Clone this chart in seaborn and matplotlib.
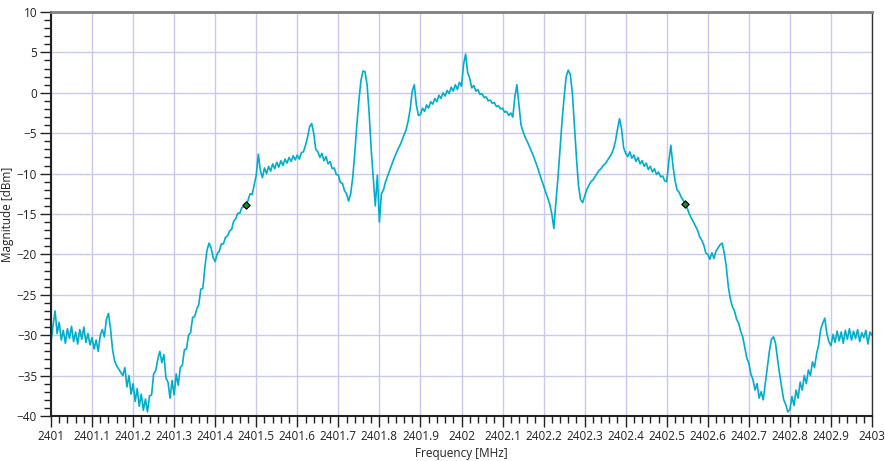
import numpy as np
import pandas as pd
import seaborn as sns
import matplotlib.pyplot as plt
from matplotlib.ticker import MultipleLocator

# spectrum trace, one value every 0.005 MHz from 2401.000 to 2403.000
mag_dbm = [
    # 2401.0
    -30.8, -28.8, -27.0, -29.8, -28.4, -30.6, -29.4, -31.0, -29.2, -30.4,
    -28.9, -30.8, -29.6, -31.1, -29.3, -30.5, -29.0, -30.9, -29.8, -31.2,
    # 2401.1
    -30.3, -31.7, -30.6, -32.0, -30.0, -29.3, -30.2, -28.0, -27.3, -29.2,
    -31.8, -33.2, -33.8, -34.2, -34.6, -35.0, -34.0, -36.4, -35.0, -37.3,
    # 2401.2
    -36.0, -38.2, -36.6, -38.8, -37.3, -39.3, -37.9, -39.5, -37.5, -37.4,
    -34.8, -34.4, -33.0, -32.0, -33.4, -32.4, -35.3, -35.8, -37.8, -35.6,
    # 2401.3
    -37.4, -34.8, -36.2, -34.0, -33.7, -31.8, -31.7, -30.0, -29.7, -27.8,
    -27.7, -26.8, -26.2, -24.3, -24.2, -21.5, -19.5, -18.6, -19.2, -20.4,
    # 2401.4
    -20.9, -19.9, -19.6, -18.7, -18.7, -17.9, -17.7, -17.1, -16.9, -15.9,
    -15.6, -14.9, -14.9, -14.2, -14.1, -13.9, -13.3, -12.5, -12.6, -11.4,
    # 2401.5
    -10.2, -7.6, -9.6, -10.5, -9.3, -10.0, -9.1, -9.7, -8.8, -9.4,
    -8.6, -9.2, -8.4, -9.0, -8.2, -8.7, -8.0, -8.5, -7.8, -8.3,
    # 2401.6
    -7.7, -8.2, -7.4, -7.3, -6.5, -5.5, -4.2, -3.8, -5.0, -7.0,
    -7.3, -8.0, -7.5, -8.4, -7.9, -8.8, -8.5, -9.4, -9.3, -10.1,
    # 2401.7
    -10.2, -11.1, -11.2, -12.1, -12.5, -13.4, -12.5, -10.5, -7.5, -4.0,
    -1.0, 1.5, 2.7, 2.6, 1.0, -2.5, -7.0, -10.5, -14.0, -10.2,
    # 2401.8
    -16.0, -12.5, -12.0, -11.0, -10.3, -9.6, -8.9, -8.2, -7.6, -7.0,
    -6.5, -5.9, -5.2, -4.6, -3.5, -2.0, 0.2, 1.0, -1.5, -2.8,
    # 2401.9
    -2.7, -1.9, -2.3, -1.5, -1.9, -1.1, -1.4, -0.7, -1.1, -0.3,
    -0.7, 0.0, -0.4, 0.3, -0.1, 0.7, 0.2, 1.0, 0.4, 1.3,
    # 2402.0
    0.8, 3.5, 4.8, 2.5, 1.8, 0.6, 0.9, 0.2, 0.4, -0.2,
    -0.1, -0.6, -0.5, -1.0, -0.9, -1.3, -1.2, -1.7, -1.6, -2.0,
    # 2402.1
    -1.9, -2.4, -2.3, -2.8, -2.5, -3.0, -0.5, 1.0, -1.5, -4.0,
    -4.8, -5.5, -6.0, -6.6, -7.2, -7.8, -8.5, -9.2, -10.0, -10.8,
    # 2402.2
    -11.5, -12.3, -13.0, -13.8, -15.0, -16.8, -13.5, -10.5, -7.0, -3.5,
    -0.5, 2.0, 2.8, 2.3, 0.0, -4.0, -8.0, -11.5, -13.2, -13.6,
    # 2402.3
    -12.8, -12.0, -11.5, -11.0, -10.8, -10.4, -10.0, -9.6, -9.4, -9.0,
    -8.8, -8.4, -8.0, -7.6, -7.0, -6.0, -4.5, -3.2, -4.5, -6.8,
    # 2402.4
    -7.5, -7.9, -7.3, -8.1, -7.7, -8.5, -8.0, -8.8, -8.4, -9.1,
    -8.7, -9.5, -9.1, -9.8, -9.4, -10.1, -9.8, -10.4, -10.3, -10.9,
    # 2402.5
    -11.0, -8.5, -6.5, -9.0, -10.8, -12.0, -12.3, -12.9, -13.3, -13.8,
    -14.3, -15.0, -15.5, -16.0, -16.5, -17.0, -17.8, -18.2, -18.8, -19.8,
    # 2402.6
    -20.0, -20.6, -19.8, -20.5, -19.6, -19.2, -18.8, -18.6, -19.8, -21.5,
    -24.0, -25.5, -26.5, -27.0, -28.0, -28.5, -29.5, -30.2, -31.5, -32.8,
    # 2402.7
    -33.5, -34.8, -35.5, -36.8, -36.0, -37.8, -37.0, -38.0, -36.0, -34.0,
    -32.0, -30.5, -30.2, -31.0, -33.0, -34.8, -36.5, -38.0, -38.6, -39.5,
    # 2402.8
    -39.2, -37.6, -38.7, -36.8, -37.8, -35.8, -36.8, -35.0, -36.0, -34.3,
    -35.0, -33.3, -34.0, -32.3, -31.2, -29.3, -28.5, -27.9, -29.8, -30.8,
    # 2402.9
    -31.3, -29.9, -30.9, -29.5, -30.7, -29.6, -31.0, -29.4, -30.5, -29.2,
    -30.6, -29.5, -30.4, -29.3, -30.8, -29.7, -30.3, -29.4, -31.1, -29.6,
    # 2403.0
    -30.0,
]
freq_start = 2401.0
freq_stop = 2403.0

marker_freq = [2401.475, 2402.545]
marker_mag = [-13.9, -13.8]

df = pd.DataFrame({
    "freq": np.linspace(freq_start, freq_stop, len(mag_dbm)),
    "mag": mag_dbm,
})

sns.set_style("white")
plt.rcParams["font.family"] = ["Open Sans", "DejaVu Sans"]
plt.rcParams["font.size"] = 8.5

fig = plt.figure(figsize=(8.85, 4.61), dpi=100)
ax = fig.add_axes([51 / 885, 1 - 416 / 461, 821 / 885, 404 / 461])

sns.lineplot(data=df, x="freq", y="mag", ax=ax, color="#00aecb",
             linewidth=1.2, sort=False, estimator=None)
ax.scatter(marker_freq, marker_mag, marker="D", s=14, color="#1a8a2a",
           edgecolor="black", linewidth=0.8, zorder=5)

ax.set_xlim(freq_start, freq_stop)
ax.set_ylim(-40, 10)
ax.xaxis.set_major_locator(MultipleLocator(0.1))
ax.xaxis.set_minor_locator(MultipleLocator(0.02))
ax.yaxis.set_major_locator(MultipleLocator(5))
ax.yaxis.set_minor_locator(MultipleLocator(1))
ax.set_xticklabels([f"{v:g}" for v in np.round(ax.get_xticks(), 1)])

ax.grid(True, which="major", color="#c8c8f0", linewidth=1)
ax.set_axisbelow(True)

ax.tick_params(which="major", direction="out", length=8, width=1,
               color="#222222", labelsize=8.5, labelcolor="#222222", pad=2,
               bottom=True, left=True)
ax.tick_params(which="minor", direction="out", length=5, width=1,
               color="#222222", bottom=True, left=True)

for side in ["left", "bottom"]:
    ax.spines[side].set_color("#222222")
    ax.spines[side].set_linewidth(1.5)
ax.spines["top"].set_color("#808080")
ax.spines["top"].set_linewidth(2)
ax.spines["right"].set_color("#333333")
ax.spines["right"].set_linewidth(1)

ax.set_xlabel("Frequency [MHz]", fontsize=8.5, color="#222222", labelpad=3)
ax.set_ylabel("Magnitude [dBm]", fontsize=8.5, color="#222222")
ax.yaxis.set_label_coords(-0.045, 0.5)

fig.savefig("out.png", dpi=100)
